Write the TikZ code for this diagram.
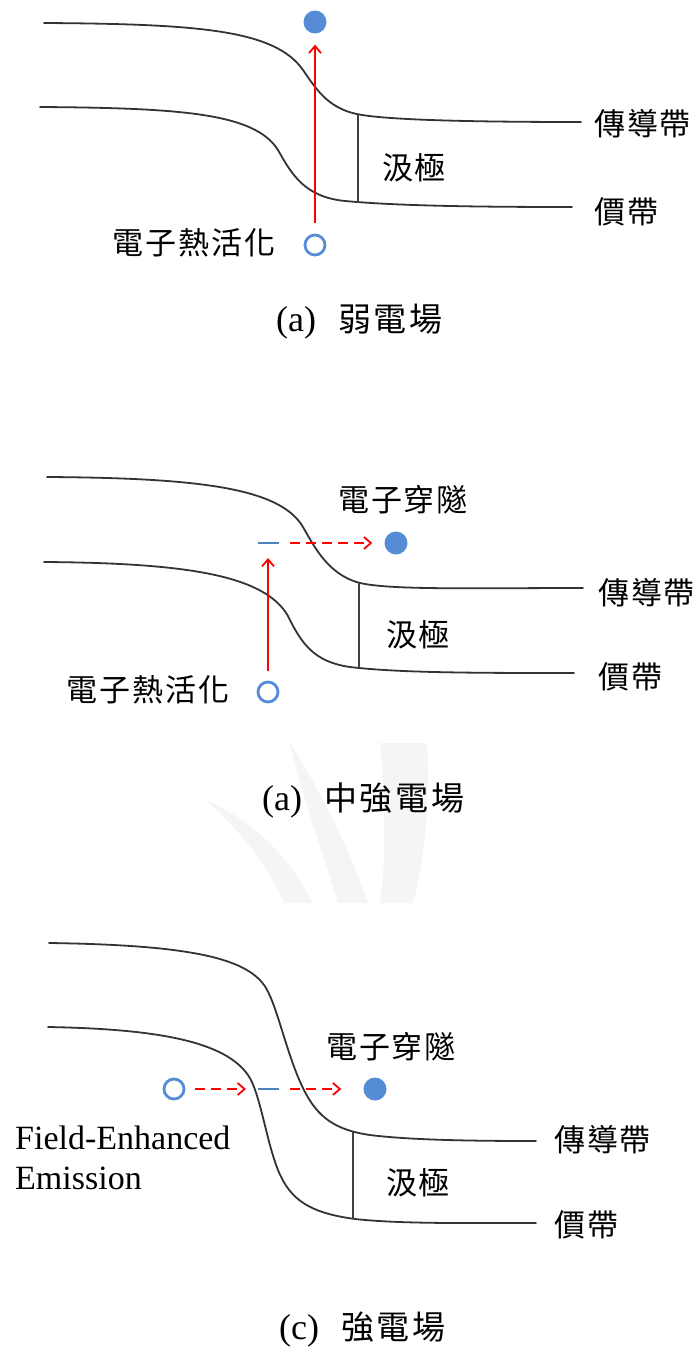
\documentclass[tikz,border=0pt]{standalone}
\usepackage{fontspec}
\setmainfont{Liberation Serif}
\newfontfamily\cjk[LetterSpace=6]{Noto Sans CJK TC}
\newfontfamily\cjkcap[LetterSpace=8]{Noto Sans CJK TC}
\usetikzlibrary{arrows.meta}
\definecolor{eblue}{RGB}{86,140,213}
\definecolor{lblue}{RGB}{79,129,189}
\definecolor{wmgray}{RGB}{245,245,245}
\tikzset{
  band/.style={line width=1.8pt, draw=black!80, line cap=round},
  drainline/.style={line width=1.6pt, draw=black!75},
  redarr/.style={red, line width=2.2pt, -{Straight Barb[length=7pt,width=12pt,line width=1.8pt]}},
  dasharr/.style={redarr, dash pattern=on 10pt off 6pt},
  edot/.style={circle, draw=eblue, line width=2.8pt, minimum size=20pt, inner sep=0pt},
  fdot/.style={circle, fill=eblue, minimum size=23pt, inner sep=0pt},
  hline/.style={lblue, line width=1.4pt},
  lbl/.style={font=\cjk\fontsize{31}{33}\selectfont, inner sep=0pt},
  elbl/.style={font=\fontsize{34}{36}\selectfont, inner sep=0pt},
  captext/.style={inner sep=0pt, anchor=west}
}
\newcommand{\capline}[2]{{\fontsize{36}{38}\selectfont #1}\hspace{22pt}{\cjkcap\fontsize{33}{35}\selectfont #2}}
\begin{document}
\begin{tikzpicture}[x=1pt,y=-1pt]
\useasboundingbox (0,0) rectangle (695,1349);
% watermark
\fill[wmgray] (205,800) .. controls (260,822) and (298,870) .. (312,903) -- (284,903) .. controls (268,866) and (240,830) .. cycle;
\fill[wmgray] (290,743) .. controls (320,790) and (350,850) .. (368,903) -- (338,903) .. controls (322,850) and (300,790) .. (290,743) -- cycle;
\fill[wmgray] (380,743) -- (427,743) .. controls (430,800) and (425,860) .. (413,903) -- (380,903) .. controls (386,860) and (386,800) .. cycle;

% ================= Panel 1 =================
\draw[band] (44,23) .. controls (200,24) and (275,30) .. (303,70) .. controls (318,92) and (330,110) .. (362,115) .. controls (400,121) and (500,122) .. (581,122);
\draw[band] (40,107) .. controls (180,108) and (255,113) .. (278,150) .. controls (292,175) and (305,197) .. (345,201) .. controls (400,206) and (480,207) .. (572,207);
\coordinate (d1t) at (358,115);
\coordinate (d1b) at (358,203);
\draw[drainline] (d1t) -- (d1b);
\node[fdot] (t1) at (315,22) {};
\node[edot] (s1) at (315,245) {};
\draw[redarr, shorten <=11pt, shorten >=11pt] (s1) -- (t1);
\node[lbl] (h1) at (194,243) {電子熱活化};
\node[lbl, anchor=west] (cb1) at (594,124) {傳導帶};
\node[lbl, anchor=west] (vb1) at (594,212) {價帶};
\node[lbl] (dr1) at (414,168) {汲極};
\node[captext] (c1) at (276,322) {\capline{(a)}{弱電場}};

% ================= Panel 2 =================
\draw[band] (47,477) .. controls (200,478) and (280,488) .. (303,527) .. controls (315,548) and (330,578) .. (365,584) .. controls (400,590) and (480,588) .. (583,588);
\draw[band] (44,562) .. controls (190,563) and (265,576) .. (288,616) .. controls (302,645) and (315,662) .. (350,667) .. controls (400,673) and (480,673) .. (574,673);
\coordinate (d2t) at (359,583);
\coordinate (d2b) at (359,668);
\draw[drainline] (d2t) -- (d2b);
\node[edot] (s2) at (268,692) {};
\coordinate (a2) at (268,558);
\draw[redarr, shorten <=10pt] (s2) -- (a2);
\coordinate (l2a) at (258,543);
\coordinate (l2b) at (279,543);
\draw[hline] (l2a) -- (l2b);
\node[fdot] (t2) at (396,543) {};
\draw[dasharr, shorten <=11pt, shorten >=12pt] (l2b) -- (t2);
\node[lbl] (tn2) at (403,500) {電子穿隧};
\node[lbl] (h2) at (148,690) {電子熱活化};
\node[lbl, anchor=west] (cb2) at (598,593) {傳導帶};
\node[lbl, anchor=west] (vb2) at (598,677) {價帶};
\node[lbl] (dr2) at (418,635) {汲極};
\node[captext] (c2) at (262,800) {\capline{(a)}{中強電場}};

% ================= Panel 3 =================
\draw[band] (49,943) .. controls (190,945) and (248,958) .. (266,988) .. controls (278,1008) and (288,1060) .. (305,1092) .. controls (318,1117) and (335,1130) .. (370,1135) .. controls (410,1140) and (470,1141) .. (536,1141);
\draw[band] (48,1027) .. controls (160,1029) and (225,1042) .. (248,1075) .. controls (260,1092) and (266,1140) .. (278,1170) .. controls (290,1200) and (310,1213) .. (355,1219) .. controls (400,1224) and (470,1223) .. (536,1223);
\coordinate (d3t) at (353,1132);
\coordinate (d3b) at (353,1219);
\draw[drainline] (d3t) -- (d3b);
\node[edot] (s3) at (174,1089) {};
\coordinate (l3a) at (258,1089);
\coordinate (l3b) at (279,1089);
\draw[dasharr, shorten <=10pt, shorten >=12pt] (s3) -- (l3a);
\draw[hline] (l3a) -- (l3b);
\node[fdot] (t3) at (375,1089) {};
\draw[dasharr, shorten <=11pt, shorten >=22pt] (l3b) -- (t3);
\node[lbl] (tn3) at (391,1047) {電子穿隧};
\node[elbl, anchor=west] (fe3) at (15,1138) {Field-Enhanced};
\node[elbl, anchor=west] (em3) at (15,1178) {Emission};
\node[lbl, anchor=west] (cb3) at (554,1140) {傳導帶};
\node[lbl, anchor=west] (vb3) at (554,1225) {價帶};
\node[lbl] (dr3) at (418,1183) {汲極};
\node[captext] (c3) at (279,1330) {\capline{(c)}{強電場}};
\end{tikzpicture}
\end{document}
